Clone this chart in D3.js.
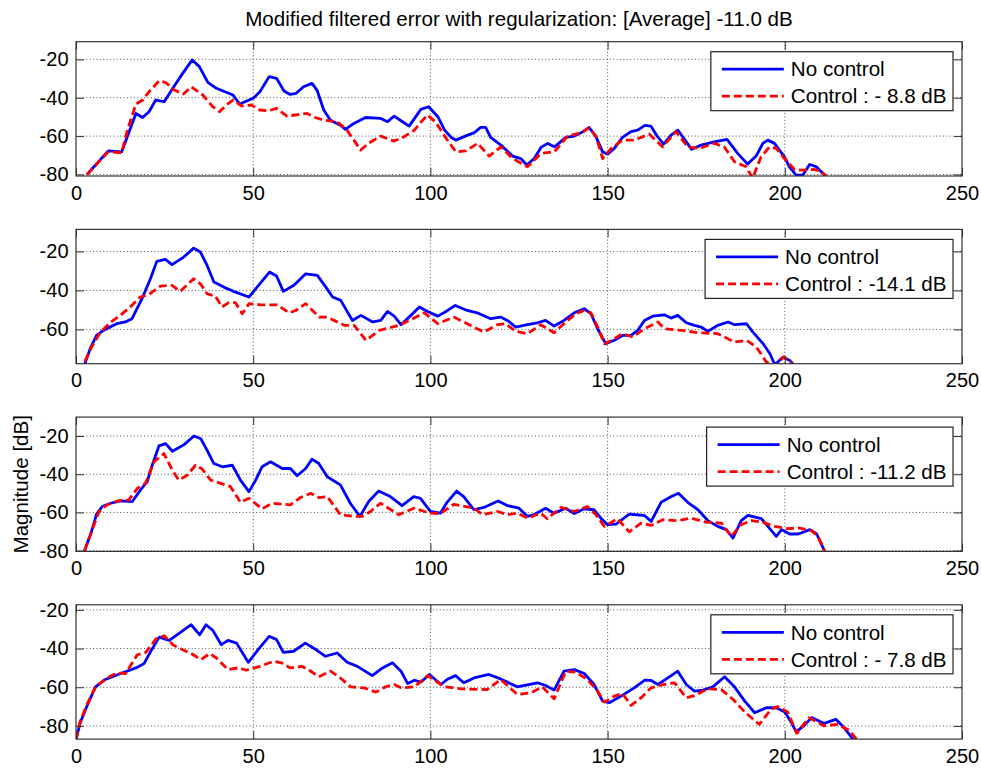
<!DOCTYPE html>
<html>
<head>
<meta charset="utf-8">
<script src="https://cdn.jsdelivr.net/npm/d3@7/dist/d3.min.js"></script>
<style>
  body { margin: 0; background: #fff; }
  text { font-family: "Liberation Sans", Arial, Helvetica, sans-serif; fill: #000; }
</style>
</head>
<body>
<div id="chart"></div>
<script>
// [bin, dB] pairs
const noControl1 = [[3.1,-80],[9.1,-67.7],[12.9,-68.2],[16.9,-48.2],[18.8,-50.3],[20.6,-47.3],[22.5,-41.2],[24.9,-42.1],[27.3,-35.1],[30.1,-27.3],[32.8,-20.3],[34.8,-23.8],[37.2,-32],[39.6,-35.1],[44.3,-38.6],[46.2,-43.3],[50,-40.3],[51.9,-36.9],[54.5,-29],[56.6,-29.9],[58.7,-36.5],[60.4,-38.3],[62.1,-37.7],[64.2,-34.3],[66.6,-32.5],[68,-36],[69.9,-46.4],[71.8,-51.7],[74.6,-54.3],[76,-56.5],[78.4,-53.4],[81.7,-50.3],[86,-50.8],[87.9,-52.5],[89.8,-49.6],[91.7,-52],[94,-54.8],[97.3,-46.1],[99.5,-44.7],[102.1,-49.9],[104,-56.9],[105.9,-60.7],[107.2,-62.1],[110.5,-59.5],[112.3,-58.3],[114.2,-55.5],[115.6,-55.5],[117,-60.7],[119.9,-64.7],[123.2,-70.4],[125.5,-71.7],[127.2,-75.1],[129.3,-71.7],[131.2,-65.9],[133.1,-63.8],[135,-65.6],[138.2,-60.7],[140.6,-60],[142.5,-58.3],[144.8,-55.5],[146.7,-60.3],[148.6,-68.2],[150,-69.4],[151.9,-66.4],[154.2,-60.7],[156.6,-57.7],[158.5,-56.9],[160.5,-54.4],[162.2,-54.8],[164.1,-60.3],[165.8,-64.2],[167.9,-59.5],[169.8,-56.9],[171.7,-61.7],[173.7,-66.9],[176.4,-64.7],[180.1,-63],[183.7,-61.7],[186.7,-69],[189.5,-74.6],[191.9,-70.4],[193.8,-63.8],[195.2,-62.1],[197.1,-63.8],[199.9,-70.8],[201.3,-76],[203.2,-80.3],[205.1,-80.3],[207,-74.8],[208.9,-76],[210.3,-78.6],[211.7,-81]];
const control1 = [[3.1,-80],[9.1,-68.2],[12.9,-68.7],[14.5,-56.9],[16.9,-43.3],[18.8,-41.2],[20.6,-36.9],[23.5,-31.1],[25.4,-32.2],[27.7,-36],[30.3,-38.1],[32.5,-34.3],[35.8,-38.6],[38.6,-44.7],[40.5,-47.3],[42.4,-43.8],[44.3,-41.2],[46.7,-44.3],[49.5,-43.8],[51.9,-46.4],[54.3,-46.8],[56.6,-45.6],[59.5,-49.6],[61.8,-49],[65.2,-48.2],[67.5,-50.3],[69.9,-51.7],[73.7,-52.5],[76.5,-56.9],[78.4,-62.1],[80.3,-67.3],[82.7,-63.5],[86,-60],[89.8,-62.6],[92.6,-60.3],[95.5,-56.9],[97.8,-51.7],[99.2,-49],[101.6,-53],[104,-60],[107.2,-68.2],[110,-67.7],[113.3,-63.8],[116.6,-70.4],[119.9,-65.6],[123.2,-71.7],[127.4,-76],[131.2,-69],[135,-68.2],[138.7,-60],[142.5,-58.3],[144.8,-55.7],[146.7,-60],[148.6,-71.7],[151,-66.4],[154.2,-62.1],[157.5,-62.1],[161.8,-59],[165.5,-65.6],[169.3,-57.7],[172.6,-65.6],[175.9,-66.4],[180.1,-63.8],[182.9,-65.6],[185.8,-73.4],[189.1,-76],[190.9,-82],[193.3,-70.8],[195.7,-65.6],[197.6,-66.4],[199.9,-71.7],[202.7,-77.4],[205.1,-77.7],[208.4,-77.4],[210.3,-78.6],[211.7,-81]];

const noControl2 = [[2.5,-77.6],[4,-69.9],[5.8,-63.1],[7.7,-60.5],[11.5,-57.1],[13.9,-56.2],[15.8,-54.5],[18.6,-44.3],[21,-34],[22.8,-25.1],[25.2,-24.1],[27.1,-26.8],[30.4,-22.9],[33.2,-18.3],[35.1,-20.3],[37,-27.2],[38.9,-35.7],[41.7,-38.3],[45,-40.9],[48.8,-43.4],[51.1,-38.3],[54.6,-30.6],[56.6,-32.6],[58.5,-40.5],[61.5,-37.4],[64.8,-31.5],[68.1,-32.3],[70.5,-38.3],[72.4,-43.4],[74.7,-45.1],[78,-55.4],[80.4,-52.8],[83.7,-56.2],[86,-55.4],[87.9,-50.8],[89.8,-53.2],[91.7,-57.6],[94.5,-52.8],[96.9,-48.5],[99.2,-50.8],[102.1,-53.2],[104.4,-50.8],[107,-47.7],[110.4,-50.3],[113.2,-51.5],[117,-54.5],[119.8,-53.7],[121.7,-55.4],[124.1,-58.8],[127.4,-57.6],[130.2,-56.6],[132.5,-55.4],[134.9,-58.3],[137.7,-55.4],[140.6,-51.5],[143.4,-49.4],[145.3,-52],[147.2,-59.7],[149.5,-67.4],[151.9,-65.6],[154.2,-63.1],[156.6,-63.1],[158.5,-60.5],[160.4,-55.4],[162.7,-53.2],[166,-52.5],[167.9,-54.2],[169.8,-52.8],[172.2,-56.6],[174.5,-57.9],[176.4,-58.8],[178.3,-61],[181.1,-57.9],[184,-56.2],[185.8,-57.6],[189.2,-57.1],[191,-61.4],[193.9,-67.4],[195.8,-72.5],[197.2,-78.2],[199.5,-74.2],[201.4,-75.9],[202.4,-78]];
const control2 = [[2.5,-76.4],[4.4,-69.1],[6.8,-61.7],[9.6,-56.6],[12.5,-52.8],[15.3,-48.5],[18.1,-43.4],[20.5,-42.2],[23.8,-37.8],[27.1,-37.4],[29.4,-40.5],[33.2,-34],[35.1,-36.6],[37,-41.7],[39.3,-42.9],[41.2,-48.5],[43.1,-46.3],[45,-46.3],[46.9,-52],[48.8,-46.8],[52.1,-47.4],[56.8,-47.4],[60.1,-51.5],[62,-50.3],[64.8,-46.8],[68.6,-53.7],[70.9,-53.7],[75.7,-57.9],[78.5,-57.9],[81.8,-65.6],[85.6,-60.5],[91.2,-57.9],[95,-54.5],[98.3,-51.5],[102.1,-57.1],[106.6,-53.7],[110.4,-57.1],[115.1,-61.4],[118.9,-57.6],[121.2,-57.1],[124.1,-61],[127.4,-62.2],[131.1,-57.6],[134.9,-61.7],[138.2,-56.2],[141,-52],[143.4,-50.3],[145.3,-51.5],[147.2,-58.8],[149.1,-67.4],[151.9,-64.8],[154.2,-62.2],[157.1,-63.9],[160.4,-59.7],[164.2,-56.2],[166,-59.7],[170.8,-60.5],[175.5,-61.7],[181.1,-62.2],[185.8,-66.5],[189.2,-65.6],[192,-69.1],[194.8,-76.8],[197.6,-79],[199.5,-74.2],[201.9,-76.8]];

const noControl3 = [[2.4,-80],[4.1,-71.6],[5.8,-60.9],[7.4,-56.9],[9.8,-55.2],[12.6,-54],[15.9,-54.3],[18.2,-48.2],[20.1,-43.9],[21.5,-35.3],[23.4,-25.2],[25.3,-24],[27.2,-28],[30.5,-24.5],[33.3,-20],[35.2,-21.4],[37,-27.5],[38.9,-34.4],[41.3,-36.1],[44.1,-35.3],[46.4,-43.1],[48.8,-49.1],[50.7,-43.1],[52.5,-36.1],[54.9,-33.5],[58.2,-37],[60.5,-37],[62.4,-40.8],[64.8,-37],[66.6,-32.1],[68.5,-34.4],[70.9,-41.3],[74.6,-45.6],[77.4,-55.2],[80.1,-62.1],[82.6,-54.3],[85.4,-48.8],[88.7,-51.7],[92,-56.4],[95.3,-51.7],[97.2,-52.6],[100,-59.5],[102.8,-60.4],[104.7,-54.7],[107.4,-48.8],[109.4,-51.7],[112.3,-58.6],[115.1,-57.4],[119.1,-54],[121.7,-56.4],[125,-57.8],[127.4,-62.1],[129.2,-61.2],[132.5,-57.8],[134.9,-60.4],[138.2,-57.8],[140.6,-60.6],[143.4,-58.1],[146.2,-58.6],[148.1,-63],[150,-66.4],[152.4,-66.1],[156.1,-60.9],[160.4,-61.6],[162.3,-64.7],[165.1,-54.7],[168,-51.7],[170,-50],[172.6,-54.7],[175.5,-58.6],[178.3,-64.3],[181.1,-67.3],[183.5,-69],[185.4,-73.4],[187.7,-64.3],[189.6,-61.6],[193.4,-63.3],[197.6,-72.5],[199.1,-69],[201.4,-71.3],[203.8,-71.3],[207.1,-69],[209,-71.3],[211.3,-80.5]];
const control3 = [[2.4,-80],[4.6,-69],[6.5,-59.5],[8.8,-56],[11.7,-54],[14.9,-53.4],[17.3,-47.4],[19.6,-44.8],[22,-33.5],[24.8,-29.2],[27.2,-37.9],[29,-43.1],[31.4,-40.5],[33.7,-35.3],[35.6,-37.3],[38,-43.1],[40.8,-44.8],[43.6,-46.5],[46.4,-54.7],[48.8,-52.6],[52.5,-58.1],[55.4,-55.2],[60.5,-56],[63.3,-52.2],[66.2,-50],[68.5,-52.2],[70.9,-51.7],[74.6,-61.2],[78.4,-62.1],[80.7,-62.1],[83.1,-59.5],[85.9,-55.2],[91.1,-61.2],[95.3,-57.8],[100,-60.4],[102.8,-60.6],[106.6,-55.8],[112.3,-57.8],[114.7,-61.2],[118.9,-59.5],[121.7,-61.2],[124.5,-60.4],[127.4,-63],[131.1,-60.4],[133,-63.3],[136.8,-57.4],[140.6,-59.5],[144.3,-56.9],[146.7,-61.2],[149.1,-67.3],[152.8,-63.3],[156.1,-70.2],[159.4,-65.6],[162.3,-66.8],[165.6,-63.8],[169.8,-64.3],[173.6,-63],[177.4,-65],[182.1,-65.6],[184.9,-72.5],[187.7,-66.4],[190.6,-64.3],[193.4,-65],[197.2,-67.3],[201,-68.5],[203.8,-68.1],[207.5,-69.5],[209.4,-72.5],[211.3,-80.5]];

const noControl4 = [[0,-86.9],[1.2,-78.3],[3.1,-69.7],[5.5,-59.8],[8.3,-56],[12.6,-52.9],[16.9,-50],[19.2,-47.8],[21.1,-41.4],[23.5,-34.1],[26.3,-35.8],[29.2,-32],[32.5,-27.7],[34.9,-32.9],[36.7,-27.7],[38.6,-30.6],[41,-38],[42.9,-35.8],[45.3,-37.2],[48.6,-47.1],[51.4,-40.6],[54.5,-33.7],[56.6,-35.4],[58.5,-42],[61.4,-41.4],[64.7,-37.2],[68,-40.9],[70.4,-44],[73.7,-42.3],[76.5,-47.1],[79.4,-49.2],[83.6,-54],[86.5,-50],[89.3,-47.4],[91.7,-51.7],[93.6,-58.1],[95.5,-56.4],[97.3,-57.4],[99.7,-53.4],[103,-58.6],[104.7,-56],[107.1,-54],[109.4,-57.7],[112.3,-55.2],[116.5,-53.4],[119.8,-55.7],[124.5,-59.8],[130.2,-57.7],[132.5,-59.1],[134.9,-61.5],[137.7,-51.7],[140.6,-50.9],[143.4,-52.9],[146.2,-58.6],[148.6,-67.2],[150.5,-68],[153.8,-64.6],[157.5,-60.3],[160.4,-56.4],[162.3,-56.5],[164.2,-58.6],[167,-55.2],[169.8,-51.7],[172.2,-58.6],[174.5,-62],[176.9,-61.5],[179.7,-59.8],[183,-54.6],[185.8,-59.8],[188.7,-67.2],[191.5,-73.2],[194.8,-70.6],[197.6,-70.6],[200,-72.8],[201.9,-78.3],[203.2,-83.1],[205.3,-80],[207.6,-75.7],[211.1,-78.7],[214.4,-76.6],[216.7,-80.8],[219.5,-87.5]];
const control4 = [[0,-86.9],[1.2,-77.5],[3.1,-68.9],[5.5,-59.8],[8.3,-55.7],[11.6,-52.6],[14,-52.9],[17.3,-43.2],[19.7,-42],[22.5,-35.1],[24.9,-33.4],[27.3,-38],[30.1,-40.6],[32.5,-42.6],[35.3,-45.7],[37.7,-42.6],[39.6,-44.9],[42.9,-50.9],[45.7,-50],[48.1,-51.2],[51.9,-49.2],[55.7,-46.6],[58,-47.4],[60.4,-50],[63.7,-49.2],[65.6,-50.9],[68.5,-54.6],[71.8,-51.7],[74.6,-55.2],[77.5,-59.8],[81.3,-60.3],[84.6,-62.5],[87.4,-59.8],[89.8,-58.6],[91.7,-60.3],[95.5,-59.8],[99.2,-54],[104,-59.8],[108.5,-60.8],[116,-61.2],[119.8,-56],[124.5,-63.7],[128.3,-62.9],[131.6,-59.8],[134.9,-66],[138.2,-51.7],[141,-52.2],[144.3,-56],[147.2,-62],[149.1,-67.7],[151.9,-64.6],[154.2,-63.2],[156.6,-69.4],[159.4,-65.5],[162.3,-60.3],[165.6,-58.6],[168.9,-57.7],[172.2,-65.5],[174.5,-64.3],[178.3,-60.8],[182.1,-61.2],[185.4,-66.3],[188.7,-72.8],[192.8,-79.2],[196.1,-71.4],[198,-70],[200.8,-72.8],[203.4,-83.8],[206.8,-75.7],[211.1,-80],[214.8,-79.2],[218.1,-82.1],[220.5,-87.5]];

const noControlLabel = 'No control';
const controlLabels = ['Control : - 8.8 dB', 'Control : -14.1 dB', 'Control : -11.2 dB', 'Control : - 7.8 dB'];
const xTicks = [0, 50, 100, 150, 200, 250];
const yTicks = [[-80, -60, -40, -20], [-60, -40, -20], [-80, -60, -40, -20], [-80, -60, -40, -20]];
const yDomains = [[-80.8, -10.8], [-77.6, -8.7], [-80.4, -10.1], [-86.8, -17.4]];
const titleText = 'Modified filtered error with regularization: [Average] -11.0 dB';
const yLabelText = 'Magnitude [dB]';

const panels = [
  { noCtrl: noControl1, ctrl: control1 },
  { noCtrl: noControl2, ctrl: control2 },
  { noCtrl: noControl3, ctrl: control3 },
  { noCtrl: noControl4, ctrl: control4 },
];

const width = 981, height = 769;
const axLeft = 76, axRight = 962;
const panelTop = 41.7, panelStep = 187.7, panelH = 134.3;
const tickLen = 8;
const tickFont = '20px';
const labelFont = '20.6px';

const svg = d3.select('#chart').append('svg')
  .attr('width', width)
  .attr('height', height)
  .style('background', '#fff');

const x = d3.scaleLinear().domain([0, 250]).range([axLeft, axRight]);

svg.append('text')
  .attr('x', (axLeft + axRight) / 2)
  .attr('y', 26)
  .attr('text-anchor', 'middle')
  .style('font-size', labelFont)
  .text(titleText);

panels.forEach((p, i) => {
  const top = panelTop + i * panelStep;
  const bottom = top + panelH;
  const y = d3.scaleLinear().domain(yDomains[i]).range([bottom, top]);
  const g = svg.append('g');

  // dotted grid
  const grid = g.append('g')
    .attr('stroke', '#555')
    .attr('stroke-width', 1)
    .attr('stroke-dasharray', '1,2.4');
  grid.selectAll('.gx').data(xTicks.slice(1, -1)).enter().append('line')
    .attr('x1', d => x(d)).attr('x2', d => x(d))
    .attr('y1', top).attr('y2', bottom);
  grid.selectAll('.gy').data(yTicks[i]).enter().append('line')
    .attr('x1', axLeft).attr('x2', axRight)
    .attr('y1', d => y(d)).attr('y2', d => y(d));

  // data, clipped to axes
  const clipId = 'clip' + i;
  g.append('clipPath').attr('id', clipId)
    .append('rect')
    .attr('x', axLeft).attr('y', top)
    .attr('width', axRight - axLeft).attr('height', panelH);

  const line = d3.line().x(d => x(d[0])).y(d => y(d[1]));
  const plot = g.append('g').attr('clip-path', `url(#${clipId})`);
  plot.append('path')
    .attr('d', line(p.noCtrl))
    .attr('fill', 'none')
    .attr('stroke', '#0000ff')
    .attr('stroke-width', 2.8)
    .attr('stroke-linejoin', 'round');
  plot.append('path')
    .attr('d', line(p.ctrl))
    .attr('fill', 'none')
    .attr('stroke', '#ff0000')
    .attr('stroke-width', 2.8)
    .attr('stroke-dasharray', '8,4')
    .attr('stroke-linejoin', 'round');

  // axes with inward ticks
  const fmt = d => String(d);
  const ax = g.append('g');
  ax.append('g').attr('transform', `translate(0,${bottom})`)
    .call(d3.axisBottom(x).tickValues(xTicks).tickSize(-tickLen).tickPadding(9.3).tickFormat(fmt));
  ax.append('g').attr('transform', `translate(0,${top})`)
    .call(d3.axisTop(x).tickValues(xTicks).tickSize(-tickLen).tickFormat(''));
  ax.append('g').attr('transform', `translate(${axLeft},0)`)
    .call(d3.axisLeft(y).tickValues(yTicks[i]).tickSize(-tickLen).tickPadding(7.5).tickFormat(fmt));
  ax.append('g').attr('transform', `translate(${axRight},0)`)
    .call(d3.axisRight(y).tickValues(yTicks[i]).tickSize(-tickLen).tickFormat(''));
  ax.selectAll('.domain').remove();
  ax.selectAll('g').attr('font-size', null).attr('font-family', null);
  ax.selectAll('.tick line').attr('stroke', '#333');
  ax.selectAll('.tick text')
    .attr('fill', '#000')
    .style('font-size', tickFont)
    .style('font-family', '"Liberation Sans", Arial, Helvetica, sans-serif');

  g.append('rect')
    .attr('x', axLeft).attr('y', top)
    .attr('width', axRight - axLeft).attr('height', panelH)
    .attr('fill', 'none')
    .attr('stroke', '#333')
    .attr('stroke-width', 1.2);

  // legend, anchored to top right corner
  const leg = g.append('g');
  const box = leg.append('rect')
    .attr('fill', '#fff')
    .attr('stroke', '#222')
    .attr('stroke-width', 1.2);
  const items = [
    { label: noControlLabel, color: '#0000ff', dash: null },
    { label: controlLabels[i], color: '#ff0000', dash: '8,4' },
  ];
  const texts = items.map((it, k) => leg.append('text')
    .attr('x', 80)
    .attr('y', 17.5 + k * 27)
    .attr('dy', '0.35em')
    .style('font-size', labelFont)
    .text(it.label));
  const textW = d3.max(texts, t => t.node().getComputedTextLength());
  const boxW = 11 + 62 + 7 + textW + 6.5;
  const boxX = axRight - 9 - boxW;
  leg.attr('transform', `translate(${boxX},${top + 10})`);
  box.attr('width', boxW).attr('height', 59);
  items.forEach((it, k) => {
    leg.append('line')
      .attr('x1', 11).attr('x2', 73)
      .attr('y1', 17.5 + k * 27).attr('y2', 17.5 + k * 27)
      .attr('stroke', it.color)
      .attr('stroke-width', 2.8)
      .attr('stroke-dasharray', it.dash);
  });
});

svg.append('text')
  .attr('transform', `translate(28,${panelTop + 2 * panelStep + panelH / 2}) rotate(-90)`)
  .attr('text-anchor', 'middle')
  .style('font-size', labelFont)
  .text(yLabelText);
</script>
</body>
</html>
